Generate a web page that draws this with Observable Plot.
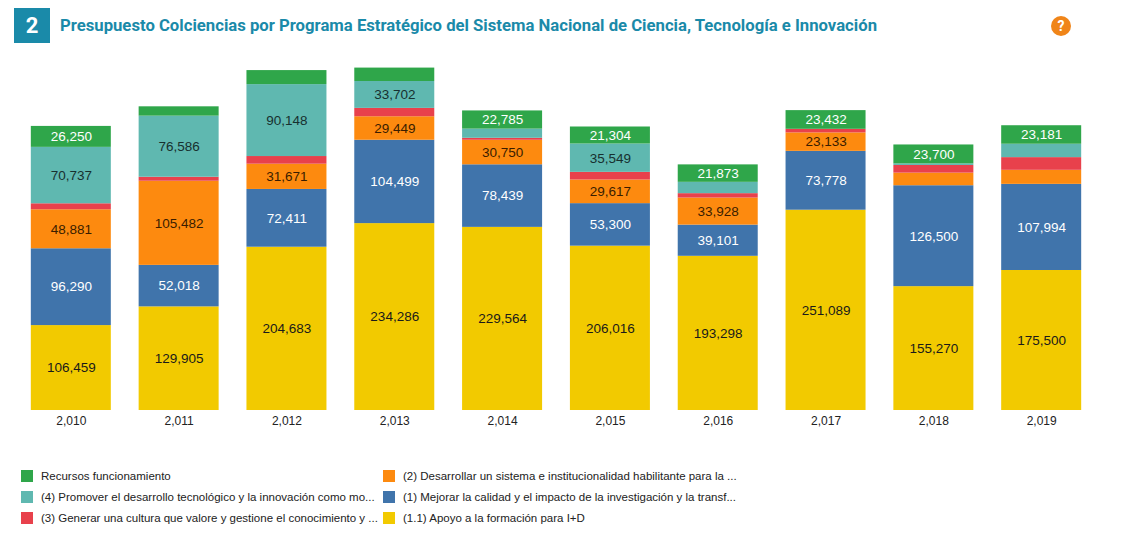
<!DOCTYPE html>
<html>
<head>
<meta charset="utf-8">
<script src="https://cdn.jsdelivr.net/npm/d3@7"></script>
<script src="https://cdn.jsdelivr.net/npm/@observablehq/plot@0.6"></script>
<style>
  html, body { margin: 0; padding: 0; background: #fff; }
  body { width: 1122px; height: 536px; position: relative; overflow: hidden; font-family: "Liberation Sans", Arial, sans-serif; }
  #header { position: absolute; left: 0; top: 0; width: 1122px; height: 50px; }
  #badge { position: absolute; left: 14px; top: 8px; width: 36px; height: 35px; background: #1a8aa9; color: #fff; font: 700 22px Roboto, sans-serif; display: flex; align-items: center; justify-content: center; }
  #title { position: absolute; left: 60px; top: 16px; color: #1a8aa9; font: 700 16.7px Roboto, sans-serif; white-space: nowrap; }
  #help { position: absolute; left: 1051px; top: 16px; width: 20px; height: 20px; border-radius: 50%; background: #f08519; color: #fff; font: 700 14px Roboto, sans-serif; display: flex; align-items: center; justify-content: center; }
  #chart { position: absolute; left: 0; top: 50px; }
  #legend { position: absolute; left: 21px; top: 469px; display: grid; grid-template-columns: 362px 400px; row-gap: 8px; }
  .item { display: flex; align-items: center; height: 13px; font-size: 11.5px; color: #222; white-space: nowrap; }
  .sw { width: 12px; height: 12px; margin-right: 8px; flex: none; }
</style>
</head>
<body>
<div id="header">
  <div id="badge">2</div>
  <div id="title">Presupuesto Colciencias por Programa Estratégico del Sistema Nacional de Ciencia, Tecnología e Innovación</div>
  <div id="help">?</div>
</div>
<div id="chart"></div>
<div id="legend"></div>
<script>
// ---- data ----
const years = [2010, 2011, 2012, 2013, 2014, 2015, 2016, 2017, 2018, 2019];

const seriesNames = [
  "(1.1) Apoyo a la formación para I+D",
  "(1) Mejorar la calidad y el impacto de la investigación y la transf...",
  "(2) Desarrollar un sistema e institucionalidad habilitante para la ...",
  "(3) Generar una cultura que valore y gestione el conocimiento y ...",
  "(4) Promover el desarrollo tecnológico y la innovación como mo...",
  "Recursos funcionamiento"
];

const apoyo       = [106459, 129905, 204683, 234286, 229564, 206016, 193298, 251089, 155270, 175500];
const mejorar     = [96290, 52018, 72411, 104499, 78439, 53300, 39101, 73778, 126500, 107994];
const desarrollar = [48881, 105482, 31671, 29449, 30750, 29617, 33928, 23133, 15800, 17600];
const generar     = [7500, 5000, 9600, 10500, 2500, 9600, 5500, 4500, 9600, 15900];
const promover    = [70737, 76586, 90148, 33702, 11500, 35549, 14200, 0, 2000, 16800];
const recursos    = [26250, 11700, 17600, 16800, 22785, 21304, 21873, 23432, 23700, 23181];

const seriesValues = [apoyo, mejorar, desarrollar, generar, promover, recursos];

const seriesColors = ["#f2ca00", "#4074ab", "#fd8a0f", "#e8414c", "#5fb8b0", "#2fa64a"];
const labelColors  = ["#1a1a1a", "#ffffff", "#3a1d00", "#ffffff", "#17302f", "#ffffff"];

// legend order (row-major, two columns)
const legendOrder = [5, 2, 4, 1, 3, 0];

const labelMin = 19000;

// ---- build table ----
const fmt = d3.format(",");
const rows = [];
seriesNames.forEach((name, i) => {
  years.forEach((yr, j) => {
    rows.push({year: yr, serie: name, value: seriesValues[i][j], color: seriesColors[i], label: labelColors[i]});
  });
});

const chart = Plot.plot({
  width: 1122,
  height: 390,
  marginLeft: 3,
  marginRight: 13,
  marginTop: 9,
  marginBottom: 30,
  style: {fontFamily: "'Liberation Sans', Arial, sans-serif", background: "#fff"},
  x: {type: "band", domain: years, padding: 0.258, round: false, label: null, tickFormat: d => fmt(d), tickSize: 0, tickPadding: 6},
  y: {domain: [0, 440000], axis: null},
  color: {type: "identity"},
  marks: [
    Plot.barY(rows, {x: "year", y: "value", z: "serie", fill: "color", order: seriesNames}),
    Plot.text(rows, Plot.stackY({
      x: "year", y: "value", z: "serie", order: seriesNames,
      text: d => d.value >= labelMin ? fmt(d.value) : "",
      fill: "label", fontSize: 13.5
    })),
    Plot.axisX({tickSize: 0, tickPadding: 6, tickFormat: d => fmt(d), fontSize: 12, fill: "#222", label: null})
  ]
});
document.getElementById("chart").appendChild(chart);

// ---- legend ----
const legend = document.getElementById("legend");
legendOrder.forEach(i => {
  const item = document.createElement("div");
  item.className = "item";
  const sw = document.createElement("span");
  sw.className = "sw";
  sw.style.background = seriesColors[i];
  const t = document.createElement("span");
  t.textContent = seriesNames[i];
  item.appendChild(sw);
  item.appendChild(t);
  legend.appendChild(item);
});
</script>
</body>
</html>
